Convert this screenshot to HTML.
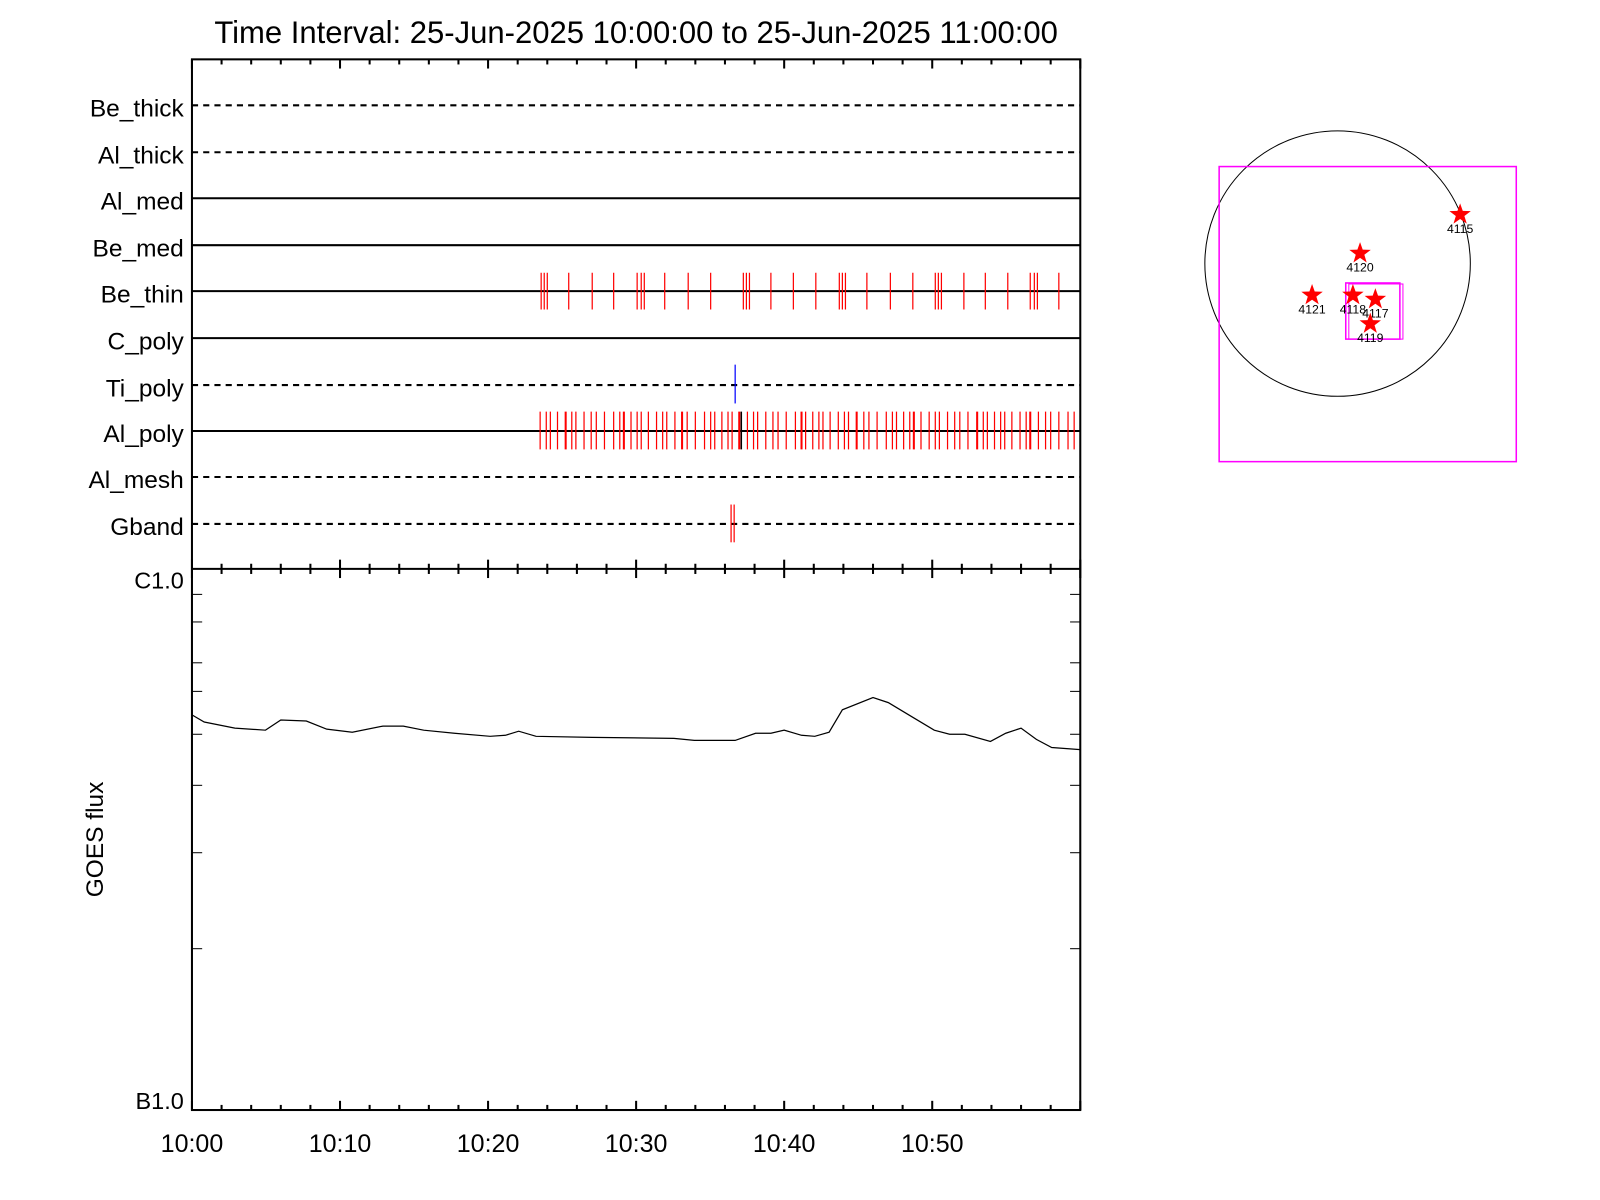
<!DOCTYPE html>
<html><head><meta charset="utf-8"><style>html,body{margin:0;padding:0;background:#fff}svg{display:block}text{font-family:"Liberation Sans",sans-serif}</style></head>
<body>
<svg id="s" width="1600" height="1200" viewBox="0 0 1567 1175" xmlns="http://www.w3.org/2000/svg">
<rect width="1567" height="1175" fill="#fff"/>
<text x="623" y="42" font-size="30.4" text-anchor="middle">Time Interval: 25-Jun-2025 10:00:00 to 25-Jun-2025 11:00:00</text>
<g id="rows"></g>
<g id="marks"></g>
<rect x="188" y="58" width="870" height="1029" fill="none" stroke="#000" stroke-width="2"/>
<line x1="188" y1="557" x2="1058" y2="557" stroke="#000" stroke-width="2"/>
<g id="ticks" stroke="#000" stroke-width="2"></g>
<g font-size="24.5" text-anchor="middle">
<text x="188" y="1128">10:00</text><text x="333" y="1128">10:10</text><text x="478" y="1128">10:20</text><text x="623" y="1128">10:30</text><text x="768" y="1128">10:40</text><text x="913" y="1128">10:50</text>
</g>
<text x="180" y="576" font-size="23" text-anchor="end">C1.0</text>
<text x="180" y="1086" font-size="23" text-anchor="end">B1.0</text>
<text transform="translate(101,822) rotate(-90)" font-size="24" text-anchor="middle">GOES flux</text>
<polyline fill="none" stroke="#000" stroke-width="1.2" points="188,700 200,707 230,713 260,715 275,705 300,706 320,714 345,717 375,711 395,711 415,715 445,718 480,721 495,720 508,716 525,721 580,722 660,723 680,725 720,725 740,718 755,718 768,715 785,720 798,721 812,717 825,695 855,683 870,688 895,703 915,715 930,719 945,719 970,726 985,718 1000,713 1015,724 1030,732 1058,734"/>
<circle cx="1310" cy="258" r="130" fill="none" stroke="#000" stroke-width="1"/>
<rect x="1194" y="163" width="291" height="289" fill="none" stroke="#f0f" stroke-width="1.5"/>
<rect x="1318" y="277" width="53" height="55" fill="none" stroke="#f0f" stroke-width="1.5"/>
<rect x="1321" y="278" width="53" height="54" fill="none" stroke="#f0f" stroke-width="1"/>
<g id="stars"></g>
</svg>
<script>
var NS="http://www.w3.org/2000/svg";
function el(p,t,a,txt){var e=document.createElementNS(NS,t);for(var k in a)e.setAttribute(k,a[k]);if(txt)e.textContent=txt;document.getElementById(p).appendChild(e);return e;}
var rows=[["Be_thick",103,1],["Al_thick",149,1],["Al_med",194,0],["Be_med",240,0],["Be_thin",285,0],["C_poly",331,0],["Ti_poly",377,1],["Al_poly",422,0],["Al_mesh",467,1],["Gband",513,1]];
rows.forEach(function(r){
 var a={x1:188,y1:r[1],x2:1058,y2:r[1],stroke:"#000","stroke-width":2};
 if(r[2])a["stroke-dasharray"]="6,5";
 el("rows","line",a);
 el("rows","text",{x:180,y:r[1]+11,"font-size":24,"text-anchor":"end"},r[0]);
});
[530,533,536,557,580,601,624,628,631,651,674,696,728,731,734,755,777,799,822,825,828,849,872,894,916,919,922,944,965,987,1009,1013,1016,1037].forEach(function(x){el("marks","line",{x1:x,y1:267,x2:x,y2:303,stroke:"red","stroke-width":1.2});});
var x=529,i=0;var gaps=[5,3,6,7,5,3,7,6,4,7,8,5,3,6];
while(x<1056){el("marks","line",{x1:x,y1:403,x2:x,y2:440,stroke:"red","stroke-width":(i%9==4?2:1.2)});x+=gaps[i%gaps.length]+1;i++;}
el("marks","line",{x1:726,y1:403,x2:726,y2:440,stroke:"#000","stroke-width":1.5});
el("marks","line",{x1:720,y1:357,x2:720,y2:395,stroke:"blue","stroke-width":1.2});
[716,719].forEach(function(x){el("marks","line",{x1:x,y1:494,x2:x,y2:531,stroke:"red","stroke-width":1.2});});
for(var m=0;m<=30;m++){var tx=188+m*29;var maj=(m%5==0);var h=maj?9:5;
 [58,557,1087].forEach(function(y){
  var y1=y-h, y2=y+h; if(y==58){y1=y;} if(y==1087){y2=y;}
  el("ticks","line",{x1:tx,y1:y1,x2:tx,y2:y2});});}
[582,609,649,677,719,769,835,929].forEach(function(y){el("ticks","line",{x1:188,y1:y,x2:198,y2:y,"stroke-width":1});el("ticks","line",{x1:1048,y1:y,x2:1058,y2:y,"stroke-width":1});});
function star(cx,cy,R){var p=[];for(var k=0;k<10;k++){var r=k%2?R*0.4:R;var a=-Math.PI/2+k*Math.PI/5;p.push((cx+r*Math.cos(a)).toFixed(1)+","+(cy+r*Math.sin(a)).toFixed(1));}return p.join(" ");}
[["4115",1430,210],["4120",1332,248],["4121",1285,289],["4118",1325,289],["4117",1347,293],["4119",1342,317]].forEach(function(s){
 el("stars","polygon",{points:star(s[1],s[2],11),fill:"red"});
 el("stars","text",{x:s[1],y:s[2]+18,"font-size":12,"text-anchor":"middle"},s[0]);
});
</script>
</body></html>
